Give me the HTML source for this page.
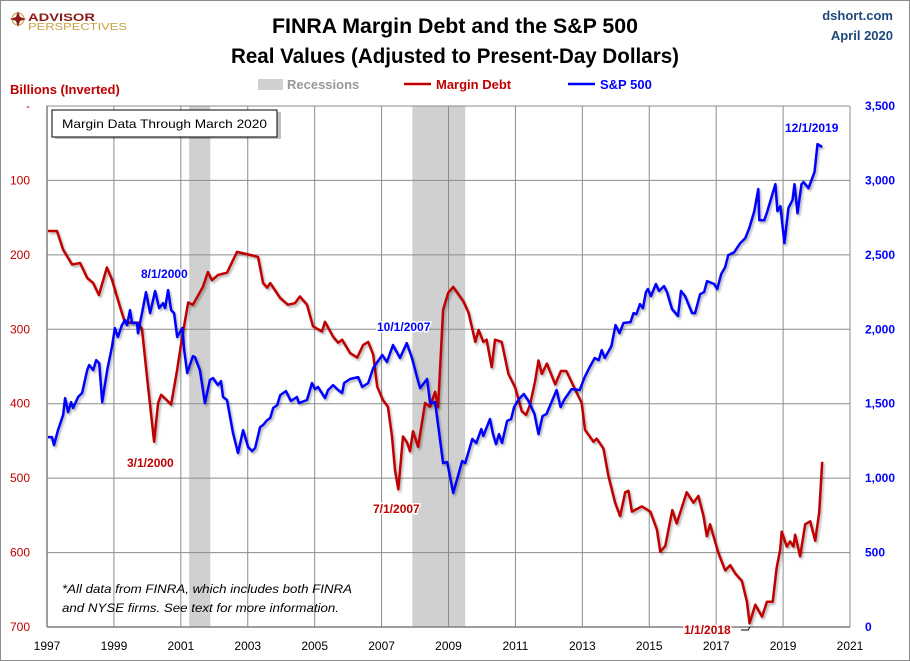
<!DOCTYPE html>
<html><head><meta charset="utf-8"><style>
html,body{margin:0;padding:0;background:#fff;}
svg{display:block;font-family:"Liberation Sans",sans-serif;}
</style></head><body>
<svg id="chart" width="910" height="661" viewBox="0 0 910 661" xmlns="http://www.w3.org/2000/svg">
<defs><filter id="sh" x="-5%" y="-5%" width="110%" height="110%"><feDropShadow dx="1.5" dy="2" stdDeviation="1" flood-color="#000" flood-opacity="0.3"/></filter></defs>
<rect x="0.5" y="0.5" width="909" height="660" fill="#fff" stroke="#8c8c8c"/>
<g>
<circle cx="18" cy="19" r="6" fill="none" stroke="#c8a040" stroke-width="1.2"/>
<polygon points="18,11 20,17 26,19 20,21 18,27 16,21 10,19 16,17" fill="#8b1a1a"/>
<text x="28" y="21" font-size="11" font-weight="bold" fill="#8b1a1a" textLength="67" lengthAdjust="spacingAndGlyphs">ADVISOR</text>
<text x="28" y="30" font-size="10" fill="#c8a040" textLength="99" lengthAdjust="spacingAndGlyphs">PERSPECTIVES</text>
</g>
<text x="455" y="33" text-anchor="middle" font-size="21" font-weight="bold" fill="#000" textLength="366" lengthAdjust="spacingAndGlyphs">FINRA Margin Debt and the S&amp;P 500</text>
<text x="455" y="63" text-anchor="middle" font-size="21" font-weight="bold" fill="#000" textLength="448" lengthAdjust="spacingAndGlyphs">Real Values (Adjusted to Present-Day Dollars)</text>
<text x="893" y="20" text-anchor="end" font-size="13" font-weight="bold" fill="#1f497d">dshort.com</text>
<text x="893" y="40" text-anchor="end" font-size="13" font-weight="bold" fill="#1f497d">April 2020</text>
<text x="10" y="94" font-size="13" font-weight="bold" fill="#c00000">Billions (Inverted)</text>
<g>
<rect x="258" y="79" width="25" height="11" fill="#d0d0d0"/>
<text x="287" y="89" font-size="13" font-weight="bold" fill="#999">Recessions</text>
<line x1="404" y1="84" x2="431" y2="84" stroke="#c00000" stroke-width="2.5"/>
<text x="436" y="89" font-size="13" font-weight="bold" fill="#c00000">Margin Debt</text>
<line x1="568" y1="84" x2="595" y2="84" stroke="#0000ff" stroke-width="2.5"/>
<text x="600" y="89" font-size="13" font-weight="bold" fill="#0000ff">S&amp;P 500</text>
</g>
<g id="recessions"></g>
<g id="grid"></g>
<g id="axes"></g>
<g id="series"></g>
<g>
<rect x="55" y="112" width="226" height="27" fill="#000" opacity="0.25"/>
<rect x="52" y="110" width="225" height="27" fill="#fff" stroke="#000" stroke-width="1"/>
<text x="62" y="128" font-size="12" fill="#000" textLength="205" lengthAdjust="spacingAndGlyphs">Margin Data Through March 2020</text>
</g>
<text x="62" y="593" font-size="12" font-style="italic" fill="#000" textLength="290" lengthAdjust="spacingAndGlyphs">*All data from FINRA, which includes both FINRA</text>
<text x="62" y="612" font-size="12" font-style="italic" fill="#000" textLength="277" lengthAdjust="spacingAndGlyphs">and NYSE firms. See text for more information.</text>
<g id="annotations"></g>
</svg>
<script>
const NS="http://www.w3.org/2000/svg";
const xTicks=[1997,1999,2001,2003,2005,2007,2009,2011,2013,2015,2017,2019,2021];
const leftTicks=[0,100,200,300,400,500,600,700];
const leftTickLabels=["-","100","200","300","400","500","600","700"];
const rightTicks=[0,500,1000,1500,2000,2500,3000,3500];
const rightTickLabels=["0","500","1,000","1,500","2,000","2,500","3,000","3,500"];
const recessionStarts=[2001.25,2007.92];
const recessionEnds=[2001.88,2009.5];
const marginDates=[1997.03,1997.30,1997.48,1997.75,1997.99,1998.20,1998.38,1998.55,1998.79,1998.94,1999.09,1999.24,1999.33,1999.72,1999.84,1999.99,2000.20,2000.32,2000.41,2000.53,2000.71,2000.89,2001.04,2001.22,2001.36,2001.66,2001.81,2001.93,2002.11,2002.38,2002.68,2003.16,2003.31,2003.46,2003.58,2003.67,2003.97,2004.20,2004.41,2004.56,2004.77,2004.95,2005.22,2005.31,2005.55,2005.70,2005.82,2006.06,2006.27,2006.45,2006.60,2006.75,2006.87,2007.04,2007.19,2007.31,2007.40,2007.50,2007.64,2007.76,2007.85,2007.94,2008.09,2008.30,2008.45,2008.60,2008.69,2008.84,2008.99,2009.14,2009.45,2009.60,2009.80,2009.90,2010.04,2010.14,2010.29,2010.39,2010.59,2010.79,2010.99,2011.19,2011.32,2011.44,2011.59,2011.69,2011.79,2011.94,2012.19,2012.36,2012.52,2012.69,2012.98,2013.08,2013.33,2013.43,2013.63,2013.78,2013.98,2014.13,2014.28,2014.38,2014.48,2014.78,2015.03,2015.23,2015.33,2015.48,2015.69,2015.82,2016.12,2016.32,2016.47,2016.62,2016.72,2016.82,2016.92,2017.07,2017.27,2017.42,2017.57,2017.77,2017.92,2018.00,2018.17,2018.37,2018.52,2018.69,2018.81,2018.91,2018.96,2019.11,2019.21,2019.31,2019.36,2019.51,2019.66,2019.81,2019.96,2020.08,2020.17];
const marginDebt=[168,168,193,213,211,231,238,254,217,233,256,278,291,291,300,364,451,399,388,393,401,354,310,264,267,243,223,234,227,224,196,201,203,238,244,238,258,267,265,256,267,296,303,290,310,318,314,332,338,321,317,334,377,395,404,444,489,515,444,452,464,437,458,399,404,384,405,274,251,243,263,278,317,301,317,314,351,314,317,360,378,410,415,401,369,342,360,346,374,356,356,372,399,435,451,447,460,497,533,551,519,517,545,538,545,569,599,591,543,561,519,533,524,551,578,562,578,601,624,617,628,638,666,695,670,686,666,666,620,597,572,592,585,592,576,605,562,558,584,546,478];
const spDates=[1997.03,1997.15,1997.21,1997.33,1997.48,1997.54,1997.63,1997.72,1997.78,1997.93,1998.05,1998.20,1998.26,1998.38,1998.47,1998.56,1998.65,1998.80,1998.94,1999.03,1999.12,1999.24,1999.33,1999.39,1999.48,1999.54,1999.69,1999.72,1999.84,1999.96,2000.08,2000.23,2000.35,2000.47,2000.53,2000.62,2000.71,2000.80,2000.89,2001.04,2001.10,2001.19,2001.36,2001.42,2001.57,2001.72,2001.87,2001.96,2002.11,2002.20,2002.26,2002.38,2002.56,2002.71,2002.86,2003.01,2003.13,2003.22,2003.37,2003.46,2003.58,2003.67,2003.76,2003.88,2003.97,2004.14,2004.29,2004.47,2004.53,2004.77,2004.92,2005.01,2005.10,2005.31,2005.40,2005.55,2005.70,2005.82,2005.88,2006.06,2006.30,2006.42,2006.60,2006.75,2007.02,2007.16,2007.34,2007.55,2007.75,2007.91,2008.06,2008.15,2008.36,2008.45,2008.60,2008.84,2008.96,2009.14,2009.41,2009.50,2009.71,2009.83,2009.98,2010.04,2010.24,2010.33,2010.42,2010.51,2010.60,2010.75,2010.87,2010.96,2011.10,2011.25,2011.39,2011.57,2011.69,2011.81,2011.93,2012.23,2012.35,2012.47,2012.68,2012.92,2013.07,2013.22,2013.37,2013.49,2013.58,2013.67,2013.87,2013.99,2014.11,2014.23,2014.44,2014.53,2014.62,2014.72,2014.81,2014.90,2014.96,2015.05,2015.20,2015.29,2015.44,2015.53,2015.68,2015.86,2015.95,2016.07,2016.28,2016.37,2016.52,2016.64,2016.73,2016.94,2017.03,2017.15,2017.27,2017.36,2017.54,2017.72,2017.87,2017.99,2018.14,2018.26,2018.29,2018.44,2018.53,2018.68,2018.77,2018.83,2018.92,2019.04,2019.16,2019.28,2019.34,2019.43,2019.55,2019.61,2019.76,2019.94,2020.03,2020.17];
const spValues=[1276,1276,1222,1323,1424,1538,1444,1511,1471,1545,1572,1726,1760,1726,1793,1773,1511,1726,1880,2008,1948,2028,2062,2028,2129,2042,2042,1974,2109,2250,2109,2257,2142,2176,2142,2263,2129,2109,1948,2008,1860,1706,1820,1813,1726,1504,1659,1672,1625,1652,1545,1525,1303,1169,1323,1209,1182,1202,1343,1357,1390,1404,1471,1491,1558,1585,1518,1545,1504,1525,1639,1598,1612,1538,1592,1625,1592,1572,1639,1666,1679,1612,1639,1740,1827,1780,1894,1807,1907,1807,1679,1605,1666,1504,1511,1101,1108,900,1115,1101,1263,1236,1330,1283,1397,1296,1229,1296,1236,1384,1397,1477,1531,1565,1518,1431,1296,1417,1431,1592,1477,1531,1598,1592,1679,1746,1807,1793,1860,1807,1887,2028,1974,2042,2048,2109,2102,2169,2142,2250,2270,2223,2304,2257,2290,2250,2136,2089,2257,2223,2109,2109,2236,2250,2324,2304,2270,2371,2418,2498,2518,2579,2612,2680,2794,2942,2733,2733,2794,2908,2975,2794,2827,2579,2814,2868,2975,2780,2975,2989,2948,3056,3244,3224,2586];

const X0=47,X1=850,YT=106,YB=627;
function xs(yr){return X0+(yr-1997)/(2021-1997)*(X1-X0);}
function yl(v){return YT+v/700*(YB-YT);}
function yr(v){return YB-v/3500*(YB-YT);}
function mk(tag,attrs,parent){const e=document.createElementNS(NS,tag);for(const k in attrs)e.setAttribute(k,attrs[k]);parent.appendChild(e);return e;}

const rec=document.getElementById('recessions');
recessionStarts.forEach((s,i)=>{
  const r=mk('rect',{x:xs(s),y:YT,width:xs(recessionEnds[i])-xs(s),height:YB-YT,fill:'#d0d0d0'},rec);
  
  
});
const grid=document.getElementById('grid');
leftTicks.forEach(v=>{
  const l=mk('line',{x1:X0,x2:X1,y1:yl(v),y2:yl(v),stroke:'#8c8c8c','stroke-width':1},grid);
  
  
});
xTicks.forEach(t=>{
  const l=mk('line',{x1:xs(t),x2:xs(t),y1:YT,y2:YB,stroke:'#8c8c8c','stroke-width':1},grid);
  
  
});
const ax=document.getElementById('axes');
mk('line',{x1:X0,x2:X1,y1:YB,y2:YB,stroke:'#7f7f7f','stroke-width':1.5},ax);
mk('line',{x1:X0,x2:X0,y1:YT,y2:YB,stroke:'#7f7f7f','stroke-width':1.5},ax);
xTicks.forEach(t=>{
  const e=mk('text',{x:xs(t),y:650,'text-anchor':'middle','font-size':12,fill:'#000'},ax);
  e.textContent=t;
  
  
});
leftTicks.forEach((v,i)=>{
  const e=mk('text',{x:30,y:yl(v)+4,'text-anchor':'end','font-size':12,fill:'#c00000'},ax);
  e.textContent=leftTickLabels[i];
  
  
});
rightTicks.forEach((v,i)=>{
  const e=mk('text',{x:865,y:yr(v)+4,'text-anchor':'start','font-size':12,'font-weight':'bold',fill:'#0000ff'},ax);
  e.textContent=rightTickLabels[i];
  
  
});
const ser=document.getElementById('series');
const pm=mk('polyline',{points:marginDates.map((d,i)=>xs(d).toFixed(1)+','+yl(marginDebt[i]).toFixed(1)).join(' '),fill:'none',stroke:'#c00000','stroke-width':2.5,'stroke-linejoin':'round',filter:'url(#sh)'},ser);


const ps=mk('polyline',{points:spDates.map((d,i)=>xs(d).toFixed(1)+','+yr(spValues[i]).toFixed(1)).join(' '),fill:'none',stroke:'#0000ff','stroke-width':2.5,'stroke-linejoin':'round',filter:'url(#sh)'},ser);



const an=document.getElementById('annotations');
function lab(txt,x,y,c,name){
  const e=mk('text',{x:x,y:y,'font-size':12,'font-weight':'bold',fill:c,stroke:'#fff','stroke-width':3,'paint-order':'stroke'},an);
  e.textContent=txt;
  
  
}
lab('8/1/2000',141,278,'#0000ff','label-sp-2000-peak');
lab('3/1/2000',127,467,'#c00000','label-margin-2000-low');
lab('10/1/2007',377,331,'#0000ff','label-sp-2007-peak');
lab('7/1/2007',373,513,'#c00000','label-margin-2007-low');
lab('12/1/2019',785,132,'#0000ff','label-sp-2019-peak');
lab('1/1/2018',684,634,'#c00000','label-margin-2018-low');
mk('polyline',{points:'741,630 748,630 750,627',fill:'none',stroke:'#000','stroke-width':1},an);
</script>
</body></html>
